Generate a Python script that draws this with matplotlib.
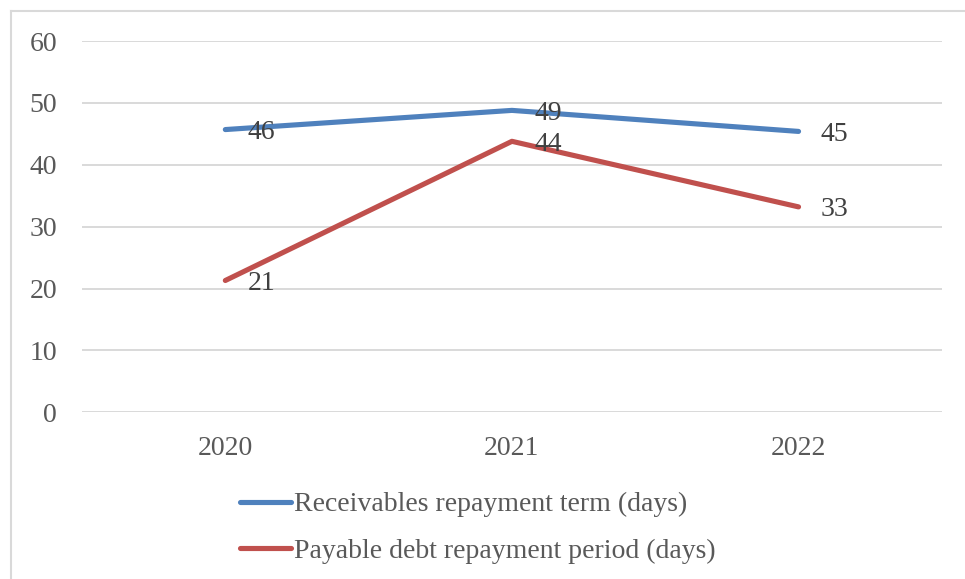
import matplotlib.pyplot as plt
from matplotlib.lines import Line2D

years = ["2020", "2021", "2022"]
receivables_days = [45.7, 48.8, 45.4]
payables_days = [21.3, 43.8, 33.2]
series_names = ["Receivables repayment term (days)",
                "Payable debt repayment period (days)"]
colors = ["#4F81BD", "#C0504D"]

plt.rcParams["font.family"] = ["Liberation Serif", "DejaVu Serif"]
plt.rcParams["font.size"] = 20

fig = plt.figure(figsize=(9.65, 5.79), dpi=100)
ax = fig.add_axes([0.085, 0.288, 0.891, 0.641])

x = range(len(years))
for vals, col, name in zip([receivables_days, payables_days], colors, series_names):
    ax.plot(x, vals, color=col, lw=3.7, solid_capstyle="round",
            solid_joinstyle="round", label=name, zorder=3)
    for xi, v in zip(x, vals):
        ax.annotate(f"{v:.0f}", (xi, v), xytext=(16, -2), textcoords="offset points",
                    va="center", ha="left", color="#404040", fontsize=20, zorder=4)

ax.set_xlim(-0.5, 2.5)
ax.set_ylim(0, 60)
ax.set_yticks(range(0, 61, 10))
ax.set_xticks(list(x))
ax.set_xticklabels(years)
ax.grid(axis="y", color="#D9D9D9", lw=1.4)
ax.set_axisbelow(True)
for s in ax.spines.values():
    s.set_visible(False)
ax.tick_params(axis="both", length=0, colors="#595959", labelsize=20)
ax.tick_params(axis="y", pad=18)
ax.tick_params(axis="x", pad=17)

# outer chart frame (top and left edges only)
fig.add_artist(Line2D([11 / 965, 1], [1 - 11 / 579] * 2, color="#D9D9D9", lw=1.5))
fig.add_artist(Line2D([11 / 965] * 2, [0, 1 - 11 / 579], color="#D9D9D9", lw=1.5))

handles = [Line2D([], [], color=c, lw=3.7, solid_capstyle="round") for c in colors]
leg = fig.legend(handles, series_names, loc="upper left",
                 bbox_to_anchor=(240 / 965, 1 - 492 / 579), frameon=False,
                 handlelength=1.85, handletextpad=0.1, labelspacing=0.75,
                 borderpad=0, borderaxespad=0, fontsize=20)
for t in leg.get_texts():
    t.set_color("#595959")

fig.savefig("out.png", dpi=100)
